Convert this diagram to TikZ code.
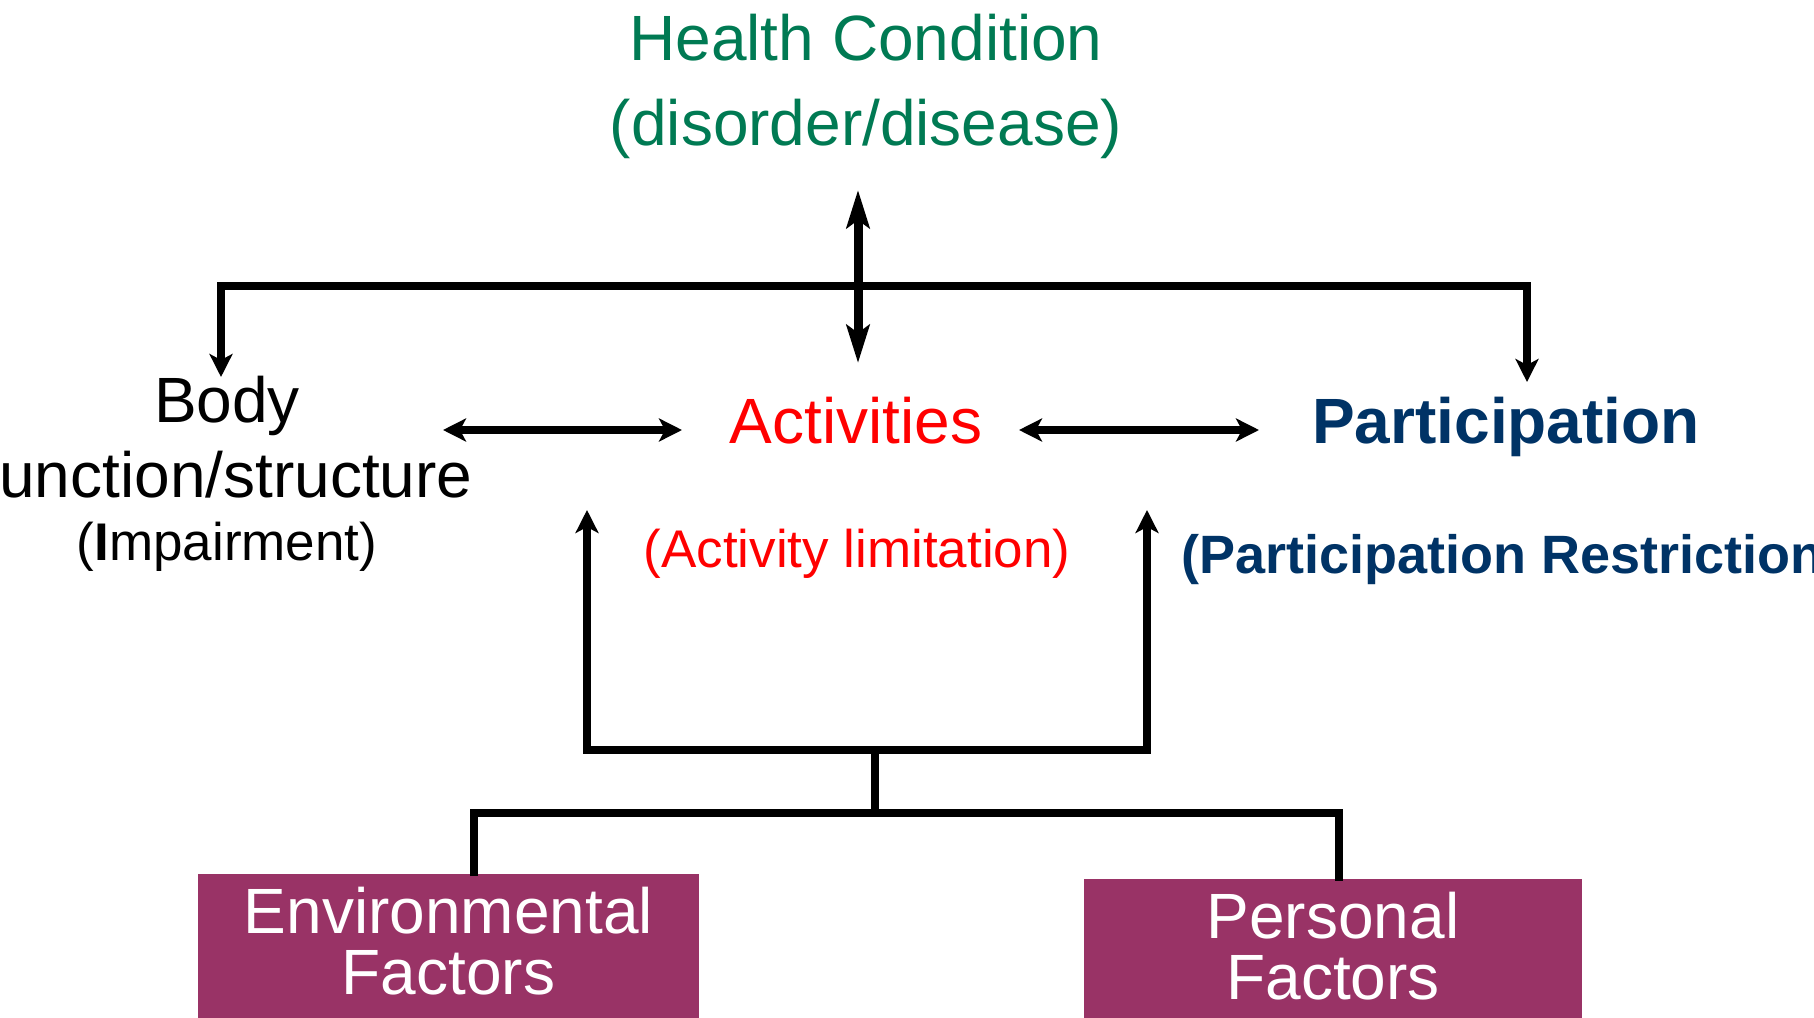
\documentclass[tikz,border=0pt]{standalone}
\usepackage{fontspec}
\setmainfont{Liberation Sans}
\usepackage{xcolor}
\usetikzlibrary{arrows.meta,positioning}
\definecolor{hcgreen}{RGB}{0,122,83}
\definecolor{actred}{RGB}{255,0,0}
\definecolor{partnavy}{RGB}{0,51,102}
\definecolor{factorpurple}{RGB}{153,51,102}

\begin{document}
\begin{tikzpicture}[
        %We work in pixels of the slide and define some styles
        x=0.5pt, y=-0.5pt,
        link/.style={line width=4pt, line join=miter},
        arr/.style={link, >={Stealth[length=11.5pt,width=11.5pt,inset=3pt]}},
        long arr/.style={link, line width=4.5pt, >={Stealth[length=19pt,width=11.5pt,inset=4pt]}},
        big text/.style={font=\fontsize{32}{36}\selectfont, inner sep=0pt, anchor=base},
        small text/.style={font=\fontsize{26.5}{30}\selectfont, inner sep=0pt, anchor=base},
        factor/.style={fill=factorpurple, text=white, font=\fontsize{32}{30.5}\selectfont,
            align=center, inner xsep=0pt, inner ysep=6.5pt, anchor=north}
    ]
    \useasboundingbox (0,0) rectangle (1814,1017);

    % Health condition
    \node[big text, text=hcgreen] (health) at (866,61) {Health Condition};
    \node[big text, text=hcgreen] (disorder) at (866,145) {(disorder/disease)};

    % Body function
    \node[big text] (body) at (227,422) {Body};
    \node[big text] (function) at (227,497) {function/structure};
    \node[small text] (impair) at (227,560) {(\textbf{I}mpairment)};

    % Activities
    \node[big text, text=actred] (activ) at (856,443) {Activities};
    \node[small text, text=actred] (limit) at (857,567) {(Activity limitation)};

    % Participation
    \node[big text, text=partnavy] (partic) at (1506,443) {\bfseries Participation};
    \node[small text, text=partnavy, anchor=base west, font=\fontsize{27}{30}\selectfont]
        (restrict) at (1181,573) {\bfseries (Participation Restriction)};

    % Factors
    \node[factor, minimum width=250.5pt] (env) at (448.5,874)
        {Environmental\\Factors\rule[-15pt]{0pt}{0pt}};
    \node[factor, minimum width=249pt] (pers) at (1333,879)
        {Personal\\Factors\rule[-15pt]{0pt}{0pt}};

    % Cordinates
    \coordinate (hctop) at (858,190);
    \coordinate (hcbot) at (858,363);
    \coordinate (topbar) at (858,286);
    \coordinate (bodyin) at (221,377);
    \coordinate (partin) at (1527,382);
    \coordinate (bodyact) at (443,430);
    \coordinate (actbody) at (682,430);
    \coordinate (actpart) at (1019,430);
    \coordinate (partact) at (1259,430);
    \coordinate (actup) at (587,510);
    \coordinate (partup) at (1147,510);
    \coordinate (lowbar) at (875,750);
    \coordinate (forkbar) at (875,813);
    \coordinate (envtop) at (474,876);
    \coordinate (perstop) at (1339,881);

    % Top links
    \draw[long arr, <->] (hctop) -- (hcbot);
    \draw[arr, <->] (bodyin) |- (topbar) -| (partin);
    \draw[arr, <->] (bodyact) -- (actbody);
    \draw[arr, <->] (actpart) -- (partact);

    % Factor links
    \draw[arr, <->] (actup) |- (lowbar) -| (partup);
    \draw[link] (lowbar) -- (forkbar);
    \draw[link] (envtop) |- (forkbar) -| (perstop);
\end{tikzpicture}
\end{document}
